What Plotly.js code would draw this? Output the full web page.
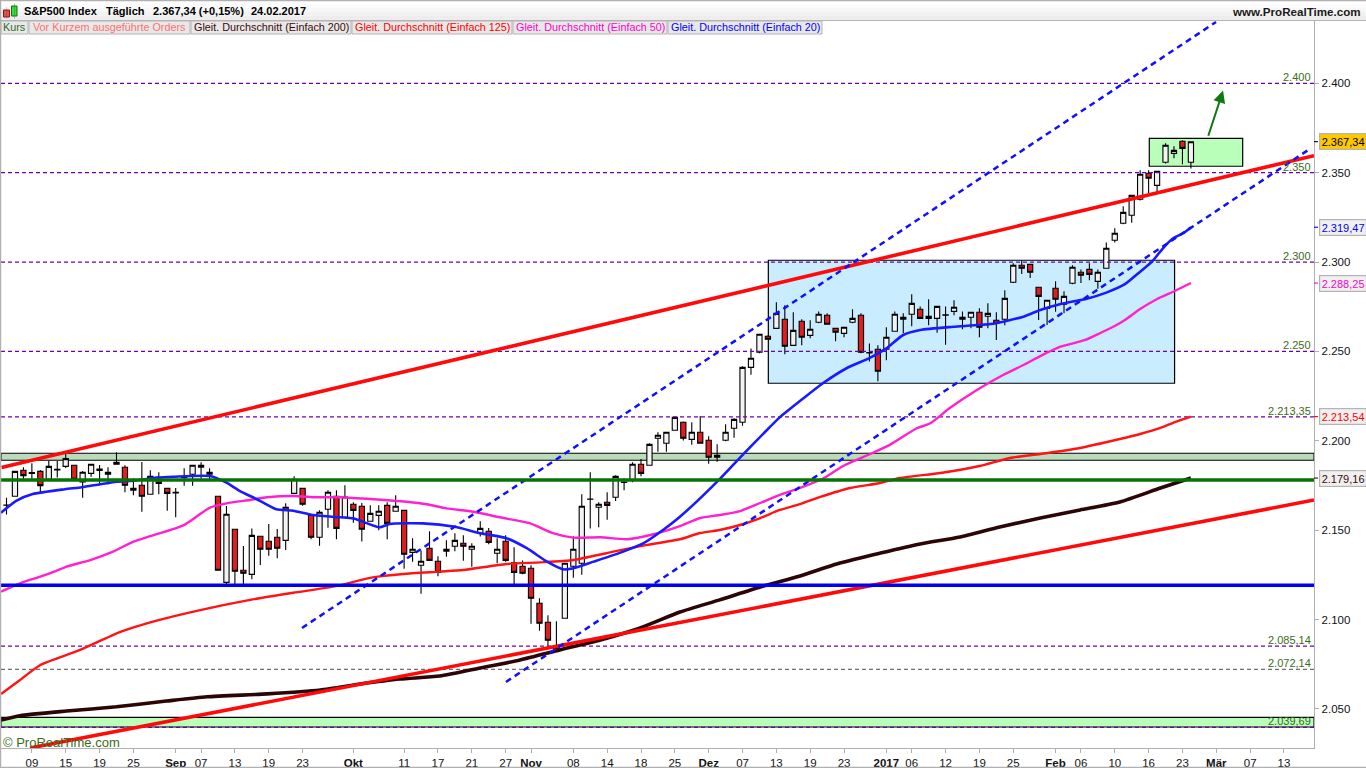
<!DOCTYPE html>
<html><head><meta charset="utf-8">
<script src="https://cdn.plot.ly/plotly-3.0.1.min.js"></script>
<style>html,body{margin:0;padding:0;background:#fff;overflow:hidden}</style>
</head><body><div id="chart" style="width:1366px;height:768px"></div>
<script>
const opens=[2164.1,2169.0,2183.5,2182.2,2182.9,2178.5,2184.1,2185.7,2186.3,2177.0,2181.8,2184.2,2181.3,2188.0,2185.2,2173.4,2175.1,2170.1,2179.6,2173.4,
2171.2,2179.4,2181.3,2185.2,2182.4,2169.0,2120.8,2150.5,2127.6,2125.3,2146.6,2143.8,2146.0,2144.3,2170.6,2173.4,2158.3,2146.0,2161.7,2169.0,
2157.2,2164.5,2163.4,2155.0,2158.3,2163.9,2160.6,2161.1,2137.6,2130.4,2139.9,2132.6,2138.2,2141.0,2142.7,2139.3,2148.3,2149.4,2137.1,2143.8,
2131.8,2129.8,2128.7,2109.1,2098.5,2083.8,2100.7,2129.8,2131.5,2167.4,2162.8,2165.6,2168.4,2176.9,2177.9,2186.9,2186.3,2201.4,2198.6,2205.9,
2210.4,2200.8,2204.8,2200.3,2190.8,2200.3,2207.0,2210.4,2241.1,2249.5,2258.5,2262.9,2268.0,2253.4,2266.9,2259.0,2266.3,2270.2,2262.9,2260.1,
2266.3,2270.2,2249.4,2251.2,2251.2,2261.3,2268.0,2270.8,2273.6,2269.7,2268.5,2270.5,2272.4,2269.1,2269.1,2271.9,2269.7,2267.4,2268.0,2288.7,
2298.2,2298.7,2285.9,2274.1,2285.3,2276.4,2288.1,2294.3,2295.9,2289.2,2296.5,2312.2,2321.7,2326.2,2335.1,2349.7,2342.9,2355.8,2360.8,2367.6,2355.8];
const highs=[2168.2,2183.0,2185.2,2187.4,2183.7,2188.9,2188.7,2192.6,2186.4,2183.1,2186.9,2186.5,2185.2,2193.6,2186.3,2179.0,2188.1,2183.5,2182.4,2173.5,
2173.6,2184.6,2186.4,2188.0,2184.6,2169.1,2163.5,2150.6,2141.1,2151.0,2146.7,2153.5,2150.7,2165.0,2180.1,2173.5,2158.4,2161.1,2172.3,2172.3,
2175.1,2165.6,2165.2,2163.9,2163.9,2165.6,2169.5,2161.2,2145.5,2138.5,2149.4,2135.4,2144.3,2148.3,2147.1,2142.7,2155.0,2151.2,2145.5,2147.1,
2140.4,2133.1,2130.4,2111.9,2102.4,2099.0,2131.5,2146.6,2170.1,2182.4,2165.6,2171.2,2180.7,2179.0,2188.0,2189.8,2198.6,2204.8,2204.8,2213.3,
2210.8,2210.4,2213.9,2202.5,2198.0,2209.2,2212.6,2241.7,2251.7,2259.8,2259.0,2277.5,2275.8,2271.9,2268.0,2267.4,2272.4,2271.3,2263.0,2263.6,
2273.6,2271.3,2254.5,2253.4,2263.5,2272.4,2271.3,2282.0,2275.2,2279.2,2275.3,2275.2,2278.6,2272.4,2272.0,2274.1,2276.9,2271.9,2284.2,2299.3,
2300.8,2299.0,2286.0,2278.7,2289.2,2283.6,2298.2,2295.9,2299.3,2295.9,2311.0,2318.9,2331.2,2337.4,2351.3,2351.3,2351.0,2366.4,2364.8,2368.1,2367.5];
const lows=[2158.7,2169.0,2178.6,2178.5,2171.4,2178.1,2179.4,2184.8,2178.4,2168.2,2179.9,2175.1,2175.7,2186.8,2171.2,2169.5,2160.3,2170.0,2170.1,2160.9,
2157.2,2174.9,2174.9,2178.1,2178.1,2127.5,2119.7,2119.7,2119.7,2122.5,2130.5,2135.7,2134.3,2138.9,2170.5,2163.7,2144.9,2141.3,2151.4,2144.9,
2157.1,2154.2,2143.6,2154.9,2149.9,2144.9,2160.5,2128.4,2132.4,2114.5,2133.0,2124.2,2135.2,2138.2,2132.9,2129.6,2146.4,2142.1,2131.5,2132.4,
2119.9,2125.3,2097.7,2093.8,2084.5,2083.8,2100.6,2123.4,2125.1,2151.0,2151.6,2155.9,2166.3,2172.3,2176.8,2180.1,2186.2,2193.9,2193.9,2205.8,
2200.1,2197.8,2198.5,2187.2,2188.3,2199.7,2201.7,2208.4,2237.0,2249.0,2256.5,2262.8,2248.4,2253.3,2253.4,2257.3,2265.7,2265.1,2255.7,2257.9,
2265.7,2249.0,2244.3,2233.3,2245.0,2261.2,2260.1,2264.1,2268.4,2264.6,2260.5,2253.8,2270.2,2262.4,2262.9,2257.9,2262.9,2256.4,2264.6,2288.3,
2293.3,2291.1,2267.6,2264.8,2272.2,2271.3,2287.6,2288.3,2289.8,2285.1,2296.4,2311.0,2321.1,2322.0,2334.5,2338.6,2339.0,2355.2,2358.0,2354.7,2352.4];
const closes=[2164.0,2182.9,2180.5,2181.7,2174.9,2185.7,2183.7,2190.0,2178.5,2182.4,2186.9,2183.4,2182.4,2186.9,2175.1,2172.3,2169.0,2180.1,2176.2,2170.6,
2170.8,2179.8,2186.3,2186.3,2181.3,2127.6,2158.9,2127.0,2125.9,2147.1,2139.3,2139.3,2139.9,2162.8,2178.5,2164.5,2146.0,2160.0,2171.2,2151.0,
2168.6,2161.1,2150.5,2159.4,2160.6,2153.8,2163.4,2136.5,2139.3,2132.6,2133.1,2126.4,2139.3,2144.3,2141.0,2141.0,2151.0,2143.2,2139.3,2133.1,
2126.4,2125.9,2111.9,2097.9,2088.4,2085.2,2131.5,2139.3,2163.4,2167.3,2164.5,2163.9,2180.1,2176.7,2186.9,2181.8,2198.0,2203.1,2204.8,2213.1,
2201.4,2204.8,2198.6,2190.8,2191.9,2204.8,2212.0,2241.1,2246.2,2259.6,2256.8,2271.3,2252.9,2261.8,2257.9,2262.4,2270.8,2265.2,2260.7,2263.5,
2268.5,2249.5,2249.2,2238.9,2257.9,2270.8,2269.1,2276.9,2268.5,2268.5,2275.2,2270.3,2274.7,2268.0,2271.9,2263.5,2271.3,2265.7,2279.7,2298.2,
2296.5,2294.3,2280.8,2278.6,2279.2,2280.8,2297.1,2292.6,2293.1,2294.3,2307.7,2316.1,2327.8,2337.3,2349.1,2346.9,2350.8,2365.3,2362.5,2363.6,2367.34];

const ma20Bars=[-0.65,1.2,3.1,6.9,8.9,11.05,13,15,17.8,19.7,24.05,26,27.6,29.6,31.9,33.9,36.2,39.4,41,44.1,45.3,49.2,53,56,59.1,61.5,63.9,65.8,67,69.4,72.9,75.3,77.6,79.6,84.3,87.1,89.5,91.4,94.2,96.5,99.3,102.1,104,106,108,111.9,116.3,120.2,122.2,124.5,127.7,130,132.2,134,135.4,136.7,137.9,139.1,140];
const ma20Vals=[2159.8,2166.5,2170.2,2172.9,2174.0,2175.7,2177.1,2177.7,2179.4,2179.9,2180.3,2176.6,2171.9,2167.3,2161.7,2160.9,2158.5,2157.2,2156.6,2151.6,2153.5,2153.8,2151.9,2148.3,2145.5,2139.9,2132.4,2128.1,2128.7,2132.4,2138.0,2142.7,2150.1,2157.5,2178.6,2192.6,2204.2,2213.1,2223.8,2232.2,2240.6,2246.5,2251.7,2259.2,2262.0,2263.8,2265.3,2269.4,2273.2,2276.4,2279.5,2282.9,2287.6,2294.6,2300.2,2307.7,2313.3,2316.1,2319.47];
const ma50Bars=[-0.65,1.6,4,5.9,7.1,9.9,12.6,15,17,20.9,24.05,26,28.8,30.8,33.9,36.7,39.4,43.4,47.3,49.7,52,55.2,58.3,61.9,64.6,67,70.2,73.3,76.1,79.6,82,84.3,86.7,89.1,91.4,93.8,96.4,98.9,102.1,104.4,107.6,109.2,111.5,114.7,117.8,120.2,122.2,124.5,127.5,129.3,131,132.2,134,135.96,138.1,140];
const ma50Vals=[2115.6,2120.3,2124.0,2127.2,2129.6,2133.3,2138.0,2143.6,2146.7,2152.7,2162.6,2165.0,2166.9,2168.4,2169.1,2168.4,2168.4,2167.3,2165.9,2164.5,2162.2,2160.3,2157.2,2153.8,2148.3,2145.8,2146.0,2144.9,2147.3,2152.3,2156.8,2158.5,2160.7,2165.2,2169.7,2173.6,2178.6,2185.9,2192.6,2197.7,2207.0,2209.8,2218.3,2228.4,2236.8,2242.4,2247.4,2252.5,2256.4,2260.3,2264.2,2267.6,2273.7,2279.2,2283.8,2288.25];
const ma125Bars=[-0.65,1.6,4,8.7,13.4,18.1,22.9,28.8,33.9,38.6,43.3,46.9,51.2,54,59.1,63.1,67,70.9,74.9,79.6,82,84.3,86.7,89.1,91.4,93.8,96.2,99.7,103.3,105.6,110.4,115,118.6,122.2,126.9,131.6,134,136.4,138.1,140];
const ma125Vals=[2058.4,2066.2,2074.6,2083.0,2093.0,2099.8,2105.3,2111.0,2115.0,2118.4,2123.6,2125.5,2126.8,2127.7,2131.1,2132.0,2133.3,2137.1,2141.1,2144.9,2148.4,2150.1,2152.9,2156.8,2161.3,2164.6,2168.6,2173.6,2176.4,2179.2,2182.0,2185.9,2190.4,2192.6,2196.0,2201.0,2203.8,2207.2,2210.5,2213.54];
const ma200Bars=[-0.65,1.6,7.1,13,18.9,23.7,30.8,37.1,41.8,46.5,51.2,56,60.7,65.4,70.2,74.9,79.6,84.3,89.1,93.8,98.5,103.3,108,112.7,117.4,122.2,126.9,131.6,136.4,140];
const ma200Vals=[2043.8,2046.2,2048.8,2051.2,2054.4,2056.8,2058.4,2060.6,2063.9,2066.7,2068.4,2072.9,2077.4,2083.0,2088.6,2095.3,2104.2,2111.0,2118.2,2124.4,2131.6,2137.2,2142.3,2146.2,2151.8,2156.8,2161.3,2165.8,2173.6,2179.16];

const dashedLevels=[2400,2350,2300,2250,2213.35,2085.14,2039.69];
const dashedLabels=["2.400","2.350","2.300","2.250","2.213,35","2.085,14","2.039,69"];
const greyLevels=[2072.14];
const greyLabels=["2.072,14"];
const redTrendUpperX=[-0.59,154.55], redTrendUpperY=[2185.1,2359.5];
const redTrendLowerX=[2.78,154.55], redTrendLowerY=[2028.14,2166.9];
const blueDashUpperX=[34.93,142.97], blueDashUpperY=[2095.3,2434.3];
const blueDashLowerX=[59.04,154.16], blueDashLowerY=[2065.1,2363.6];
const greenLevel=2178.1, blueLevel=2119.2;
const yTicks=[2050,2100,2150,2200,2250,2300,2350,2400];
const yTickText=["2.050","2.100","2.150","2.200","2.250","2.300","2.350","2.400"];
const xTicks=[3,7,11,15,20,23,27,31,35,41,47,51,55,59,62,67,71,75,79,83,87,91,95,99,104,107,111,115,119,124,127,131,135,139,143,147,151];
const xTickText=["09","15","19","25","<b>Sep</b>","07","13","19","23","<b>Okt</b>","11","17","21","27","<b>Nov</b>","08","14","18","25","<b>Dez</b>","07","13","19","23","<b>2017</b>","06","12","19","25","<b>Feb</b>","06","10","16","23","<b>Mär</b>","07","13"];
const valueBoxes=[[2367.34,"2.367,34","#000000","#ffc800"],[2319.47,"2.319,47","#0000ff","#f0f0f0"],[2288.25,"2.288,25","#ff00cc","#f0f0f0"],[2213.54,"2.213,54","#ff0000","#f0f0f0"],[2179.16,"2.179,16","#3a0a0a","#f0f0f0"]];
const tabs=[["Kurs",1,28,"#2e6b1e"],["Vor Kurzem ausgeführte Orders",29,190,"#ff7070"],["Gleit. Durchschnitt (Einfach 200)",191,351,"#3a0a0a"],["Gleit. Durchschnitt (Einfach 125)",352,512,"#ff0000"],["Gleit. Durchschnitt (Einfach 50)",513,667,"#ff00cc"],["Gleit. Durchschnitt (Einfach 20)",668,822,"#0000ff"]];

const FONT="Liberation Sans, Arial, sans-serif";
const W=1366,H=768,ML=1,MR=52,MT=20,MB=20,PW=W-ML-MR,PH=H-MT-MB;
const px=x=>(x-ML)/PW, py=y=>1-(y-MT)/PH;
const bars=opens.map((_,i)=>i);
const lineTrace=(x,y,color,width,dash,smooth)=>({type:'scatter',mode:'lines',x,y,hoverinfo:'skip',showlegend:false,line:smooth?{color,width,shape:'spline',smoothing:0.6}:{color,width,dash:dash||'solid',shape:'linear'},cliponaxis:true});
const XL=-0.65,XR=154.55;

const traces=[
 {type:'candlestick',x:bars,open:opens,high:highs,low:lows,close:closes,showlegend:false,hoverinfo:'skip',whiskerwidth:0,
  increasing:{line:{color:'#000',width:1.1},fillcolor:'#f3f3f3'},decreasing:{line:{color:'#000',width:1.1},fillcolor:'#df1f1f'}},
];
dashedLevels.forEach(v=>traces.push(lineTrace([XL,XR],[v,v],'#6f00b0',1.2,'4px,3px')));
greyLevels.forEach(v=>traces.push(lineTrace([XL,XR],[v,v],'#707070',1.2,'4px,3px')));
traces.push(lineTrace(ma125Bars,ma125Vals,'#ff1414',2.4,null,true));
traces.push(lineTrace(ma50Bars,ma50Vals,'#ff22cc',2.4,null,true));
traces.push(lineTrace(ma200Bars,ma200Vals,'#2c0606',3.6,null,true));
traces.push(lineTrace(ma20Bars,ma20Vals,'#1a1aff',2.6,null,true));
traces.push(lineTrace(redTrendUpperX,redTrendUpperY,'#ff0a0a',3.6));
traces.push(lineTrace(redTrendLowerX,redTrendLowerY,'#ff0a0a',3.6));
traces.push(lineTrace(blueDashUpperX,blueDashUpperY,'#1010ff',2.5,'6px,4.5px'));
traces.push(lineTrace(blueDashLowerX,blueDashLowerY,'#1010ff',2.5,'6px,4.5px'));
traces.push(lineTrace([XL,XR],[greenLevel,greenLevel],'#077307',3.4));
traces.push(lineTrace([XL,XR],[blueLevel,blueLevel],'#0000f5',3.4));

const shapes=[
 {type:'rect',layer:'below',xref:'x',yref:'y',x0:90.05,x1:138.07,y0:2232.2,y1:2301.0,fillcolor:'#c9edff',line:{color:'#000',width:1.2}},
 {type:'rect',layer:'below',xref:'x',yref:'y',x0:135.08,x1:146.12,y0:2353.6,y1:2369.2,fillcolor:'#b9ffb9',line:{color:'#000',width:1.2}},
 {type:'rect',layer:'below',xref:'x',yref:'y',x0:XL,x1:XR,y0:2189.1,y1:2193.0,fillcolor:'#bbdcbb',line:{color:'#000',width:1.1}},
 {type:'rect',layer:'below',xref:'x',yref:'y',x0:XL,x1:XR,y0:2039.9,y1:2045.3,fillcolor:'#b9ffb9',line:{color:'#000',width:1.1}},
];
const rectPx=(x0,x1,y0,y1,fill,lineColor,lw)=>({type:'rect',layer:'above',xref:'paper',yref:'paper',x0:px(x0),x1:px(x1),y0:py(y1),y1:py(y0),fillcolor:fill,line:{color:lineColor||fill,width:lw||0}});
['#ffffff','#fbfbfb','#f7f7f7','#f2f2f2','#ededed'].forEach((c,i)=>shapes.push(rectPx(0,W,i*4,(i+1)*4,c)));
shapes.push(rectPx(0,W,0,1.2,'#b0b0b0'));
shapes.push(rectPx(0,W,20,21,'#b4b4b4'));
tabs.forEach(t=>{shapes.push(rectPx(t[1],t[2],21,34,'#e8e8e8','#b4b4b4',1));});
shapes.push(rectPx(0,1.2,0,H,'#b0b0b0'));
shapes.push(rectPx(0,W,H-1.3,H,'#b0b0b0'));
shapes.push(rectPx(3.5,9.5,10,17,'#e05050','#901010',1));
shapes.push(rectPx(6.4,6.6,7,19,'#901010'));
shapes.push(rectPx(11.5,17,6,16,'#40d840','#107010',1));
shapes.push(rectPx(14.1,14.4,3,19,'#107010'));
valueBoxes.forEach(b=>shapes.push({type:'line',layer:'above',xref:'paper',yref:'y',x0:px(1314),x1:px(1318),y0:b[0],y1:b[0],line:{color:b[2],width:1.1}}));

const annotations=[];
const txt=(x,y,text,color,size,anchor)=>({xref:'paper',yref:'paper',x:px(x),y:py(y),text,showarrow:false,xanchor:anchor||'left',yanchor:'middle',font:{family:FONT,size:size||11,color},bgcolor:'rgba(0,0,0,0)',borderpad:0});
[["S&P500 Index",23],["Täglich",104.5],["2.367,34 (+0,15%)",152],["24.02.2017",250]].forEach(t=>annotations.push(txt(t[1],11,'<b>'+t[0]+'</b>','#000',11)));
annotations.push(txt(1362,11,'<b>www.ProRealTime.com</b>','#1a1a1a',11.6,'right'));
tabs.forEach(t=>annotations.push(txt((t[1]+t[2])/2,27.5,t[0],t[3],10.8,'center')));
annotations.push(txt(2,742,'© ProRealTime.com','#3a6b1a',13));
const levelLabel=(v,t)=>({xref:'paper',yref:'y',x:px(1312),y:v,text:t,showarrow:false,xanchor:'right',yanchor:'bottom',font:{family:FONT,size:11,color:'#3a6b1a'},borderpad:0,yshift:-1});
dashedLevels.forEach((v,i)=>annotations.push(levelLabel(v,dashedLabels[i])));
greyLevels.forEach((v,i)=>annotations.push(levelLabel(v,greyLabels[i])));
valueBoxes.forEach(b=>annotations.push({xref:'paper',yref:'y',x:px(1318.5),y:b[0],text:b[1],showarrow:false,xanchor:'left',yanchor:'middle',font:{family:FONT,size:11,color:b[2]},bgcolor:b[3],bordercolor:'#b4b4b4',borderwidth:1.2,borderpad:1.5}));
annotations.push({xref:'x',yref:'y',axref:'x',ayref:'y',x:143.8,y:2395.9,ax:142.0,ay:2369.8,text:'',showarrow:true,arrowhead:2,arrowsize:1.2,arrowwidth:2,arrowcolor:'#0c7a0c'});

const layout={width:W,height:H,autosize:false,margin:{l:ML,r:MR,t:MT,b:MB,pad:0},paper_bgcolor:'#fff',plot_bgcolor:'#fff',showlegend:false,hovermode:false,dragmode:false,
 boxgap:0.12,
 xaxis:{type:'linear',range:[XL,XR],fixedrange:true,showgrid:false,zeroline:false,rangeslider:{visible:false},tickmode:'array',tickvals:xTicks,ticktext:xTickText,ticks:'outside',ticklen:4,tickwidth:1,tickcolor:'#b0b0b0',showline:true,linecolor:'#b0b0b0',linewidth:1.3,tickangle:0,tickfont:{family:FONT,size:11.5,color:'#111'}},
 yaxis:{type:'linear',side:'right',range:[2028.14,2435.41],fixedrange:true,showgrid:false,zeroline:false,tickmode:'array',tickvals:yTicks,ticktext:yTickText,ticks:'outside',ticklen:4,tickwidth:1,tickcolor:'#b0b0b0',showline:true,linecolor:'#b0b0b0',linewidth:1.3,tickfont:{family:FONT,size:11.5,color:'#111'}},
 shapes,annotations};
Plotly.newPlot('chart',traces,layout,{displayModeBar:false,staticPlot:true});
</script></body></html>
